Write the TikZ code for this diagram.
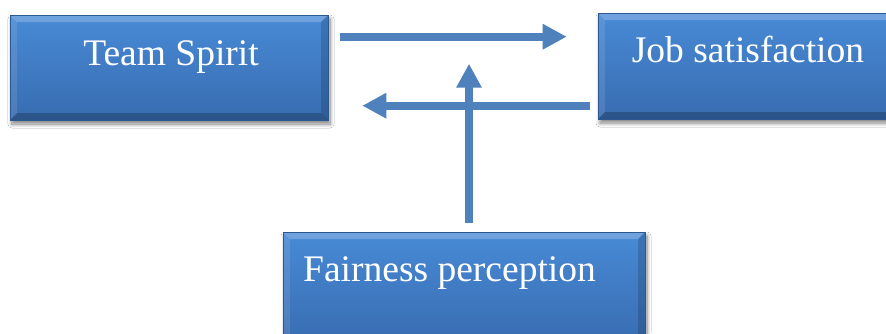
\documentclass[tikz,border=0pt]{standalone}
\usepackage{fontspec}
\setmainfont{Liberation Serif}
\usetikzlibrary{arrows.meta,calc,shadows.blur}
\definecolor{boxtop}{RGB}{72,138,214}
\definecolor{boxbot}{RGB}{56,108,176}
\definecolor{boxedge}{RGB}{44,88,146}
\definecolor{arrowblue}{RGB}{79,129,189}
\tikzset{
  bevelbox/.style={rectangle, inner sep=0pt, top color=boxtop, bottom color=boxbot,
    draw=boxedge, line width=0.6pt,
    blur shadow={shadow blur steps=8, shadow blur radius=4pt, shadow xshift=2pt, shadow yshift=-4pt, shadow opacity=50},
    path picture={
      \fill[white,opacity=0.22] (path picture bounding box.north west) -- (path picture bounding box.north east)
        -- ([xshift=-7pt,yshift=-7pt]path picture bounding box.north east) -- ([xshift=7pt,yshift=-7pt]path picture bounding box.north west) -- cycle;
      \fill[white,opacity=0.10] (path picture bounding box.north west) -- ([xshift=7pt,yshift=-7pt]path picture bounding box.north west)
        -- ([xshift=7pt,yshift=7pt]path picture bounding box.south west) -- (path picture bounding box.south west) -- cycle;
      \fill[black,opacity=0.15] (path picture bounding box.north east) -- (path picture bounding box.south east)
        -- ([xshift=-7pt,yshift=7pt]path picture bounding box.south east) -- ([xshift=-7pt,yshift=-7pt]path picture bounding box.north east) -- cycle;
      \fill[black,opacity=0.22] (path picture bounding box.south west) -- (path picture bounding box.south east)
        -- ([xshift=-7pt,yshift=7pt]path picture bounding box.south east) -- ([xshift=7pt,yshift=7pt]path picture bounding box.south west) -- cycle;
    }},
  boxtext/.style={text=white, inner sep=0pt, font=\fontsize{37.5}{40}\selectfont},
  flow/.style={draw=arrowblue, line width=8pt, -{Triangle[width=24pt,length=24pt]}}
}
\begin{document}
\begin{tikzpicture}[x=1pt,y=-1pt]
\useasboundingbox (0,0) rectangle (886,333);
\clip (0,0) rectangle (886,333);
\fill[white] (0,0) rectangle (886,333);
\node[bevelbox, minimum width=318pt, minimum height=105pt] (ts) at (169,67.5) {};
\node[bevelbox, minimum width=310pt, minimum height=106pt] (js) at (753,66) {};
\node[bevelbox, minimum width=362pt, minimum height=113pt] (fp) at (464,288.5) {};
\node[boxtext, anchor=base] (tst) at (171,65) {Team Spirit};
\node[boxtext, anchor=base] (jst) at (748,62) {Job satisfaction};
\node[boxtext, anchor=base west] (fpt) at (303,281) {Fairness perception};
\draw[flow] ($(ts.north east)+(12,22)$) -- ($(js.north west)+(-31,24)$);
\draw[flow] ($(js.north west)+(-8,93)$) -- ($(ts.north east)+(34,91)$);
\draw[flow] ($(fp.north)+(5,-9)$) -- ($(fp.north)+(5,-168)$);
\end{tikzpicture}
\end{document}
